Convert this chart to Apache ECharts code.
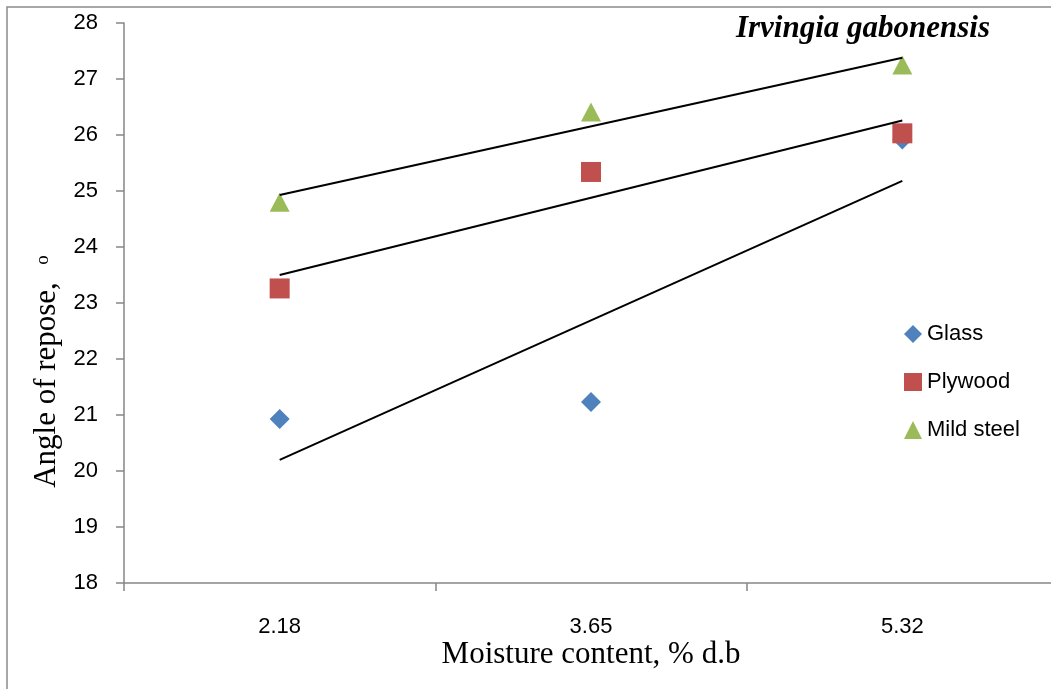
<!DOCTYPE html>
<html>
<head>
<meta charset="utf-8">
<script src="https://cdn.jsdelivr.net/npm/echarts@6/dist/echarts.min.js"></script>
<style>
html,body{margin:0;padding:0;background:#fff;}
#chart{width:1051px;height:689px;}
</style>
</head>
<body>
<div id="chart"></div>
<script>
// Data
var categories = ['2.18', '3.65', '5.32'];
var glass = [20.93, 21.23, 25.92];
var plywood = [23.26, 25.34, 26.03];
var mildSteel = [24.80, 26.41, 27.25];
// Linear trend lines (end values), middle left empty
var glassTrend = [20.20, null, 25.18];
var plywoodTrend = [23.50, null, 26.26];
var mildSteelTrend = [24.93, null, 27.38];
var yTicks = { min: 18, max: 28, interval: 1 };
var seriesNames = ['Glass', 'Plywood', 'Mild steel'];

var chart = echarts.init(document.getElementById('chart'), null, { renderer: 'canvas' });

function trendSeries(name, data) {
  return {
    name: name, type: 'line', data: data, connectNulls: true,
    symbol: 'none', silent: true, z: 3,
    lineStyle: { color: '#000', width: 2 }
  };
}

var option = {
  backgroundColor: '#fff',
  animation: false,
  grid: { left: 124, right: -7, top: 23, bottom: 106, containLabel: false, outerBoundsMode: 'none' },
  title: {
    text: 'Irvingia gabonensis',
    right: 56, top: 8,
    textStyle: { fontFamily: 'Liberation Serif', fontStyle: 'italic', fontWeight: 'bold', fontSize: 31, color: '#000' }
  },
  legend: {
    orient: 'vertical',
    left: 899, top: 318,
    itemWidth: 18, itemHeight: 18, itemGap: 26, itemTextGap: 7,
    data: [
      { name: 'Glass', icon: 'diamond' },
      { name: 'Plywood', icon: 'rect' },
      { name: 'Mild steel', icon: 'triangle' }
    ],
    textStyle: { fontFamily: 'Liberation Sans', fontSize: 22, color: '#000' }
  },
  xAxis: {
    type: 'category',
    data: categories,
    boundaryGap: true,
    axisLine: { lineStyle: { color: '#868686', width: 1.5 } },
    axisTick: { show: true, length: 8, inside: false, lineStyle: { color: '#868686', width: 1.5 } },
    axisLabel: { margin: 33, fontFamily: 'Liberation Sans', fontSize: 22, color: '#000' },
    splitLine: { show: false }
  },
  yAxis: {
    type: 'value',
    min: yTicks.min, max: yTicks.max, interval: yTicks.interval,
    axisLine: { show: true, lineStyle: { color: '#868686', width: 1.5 } },
    axisTick: { show: true, length: 8, lineStyle: { color: '#868686', width: 1.5 } },
    axisLabel: { margin: 26, fontFamily: 'Liberation Sans', fontSize: 22, color: '#000' },
    splitLine: { show: false }
  },
  graphic: [
    { type: 'rect', shape: { x: 7, y: 7, width: 1200, height: 1000 }, style: { fill: 'none', stroke: '#8a8a8a', lineWidth: 1.5 }, silent: true, z: -1 },
    { type: 'text', x: 47, y: 385, rotation: Math.PI / 2,
      style: { text: 'Angle of repose,', font: '31px "Liberation Serif"', fill: '#000', align: 'center', verticalAlign: 'middle' } },
    { type: 'text', x: 43, y: 260, rotation: Math.PI / 2,
      style: { text: 'o', font: '19px "Liberation Serif"', fill: '#000', align: 'center', verticalAlign: 'middle' } },
    { type: 'text', x: 591, y: 655,
      style: { text: 'Moisture content, % d.b', font: '31px "Liberation Serif"', fill: '#000', align: 'center', verticalAlign: 'middle' } }
  ],
  series: [
    { name: 'Glass', type: 'scatter', data: glass, symbol: 'diamond', symbolSize: 20, itemStyle: { color: '#4F81BD', opacity: 1 }, z: 2 },
    { name: 'Plywood', type: 'scatter', data: plywood, symbol: 'rect', symbolSize: 20, itemStyle: { color: '#C0504D', opacity: 1 }, z: 2 },
    { name: 'Mild steel', type: 'scatter', data: mildSteel, symbol: 'triangle', symbolSize: [20, 19], itemStyle: { color: '#9BBB59', opacity: 1 }, z: 2 },
    trendSeries('Glass trend', glassTrend),
    trendSeries('Plywood trend', plywoodTrend),
    trendSeries('Mild steel trend', mildSteelTrend)
  ]
};
chart.setOption(option);
</script>
</body>
</html>
